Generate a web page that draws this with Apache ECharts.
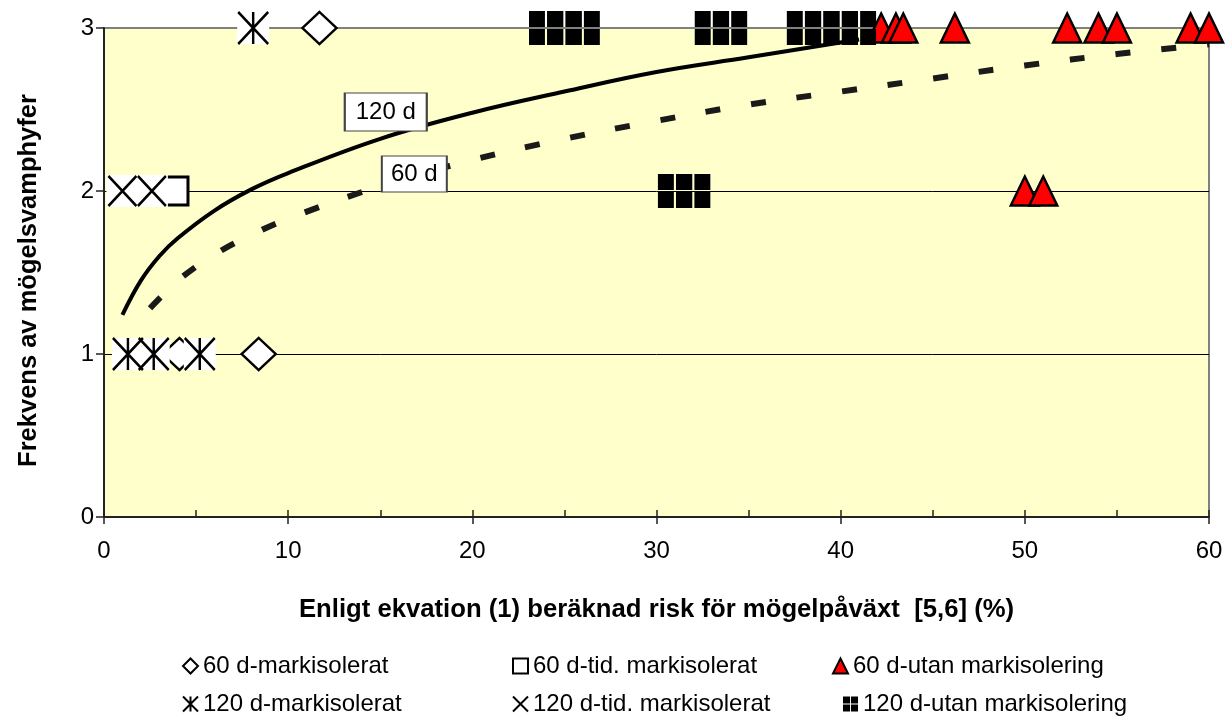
<!DOCTYPE html>
<html>
<head>
<meta charset="utf-8">
<script src="https://cdn.jsdelivr.net/npm/echarts@6/dist/echarts.min.js"></script>
<style>html,body{margin:0;padding:0;background:#fff;}#c{width:1232px;height:720px;}</style>
</head>
<body>
<div id="c"></div>
<script>
// ---- data ----
const xTicks = [0, 10, 20, 30, 40, 50, 60];
const yTicks = [0, 1, 2, 3];
const names = ['60 d-markisolerat', '60 d-tid. markisolerat', '60 d-utan markisolering',
               '120 d-markisolerat', '120 d-tid. markisolerat', '120 d-utan markisolering'];
const d60mark = [[11.7, 3], [8.4, 1], [4.1, 1]];
const d60tid = [[3.8, 2]];
const d60utan = [[42.2, 3], [43.0, 3], [43.4, 3], [46.2, 3], [52.3, 3], [54.0, 3], [55.0, 3], [59.0, 3], [60.0, 3], [50.0, 2], [51.0, 2]];
const d120mark = [[8.1, 3], [1.3, 1], [2.7, 1], [5.2, 1]];
const d120tid = [[1.0, 2], [2.6, 2]];
const d120utan = [[24, 3], [25, 3], [26, 3], [33, 3], [34, 3], [38, 3], [39, 3], [40, 3], [41, 3], [31, 2], [32, 2]];
const trend120 = [[1, 1.24], [2, 1.45], [3, 1.60], [4, 1.71], [6, 1.88], [8, 2.01], [10, 2.11], [15, 2.32], [20, 2.48], [25, 2.61], [30, 2.73], [35, 2.82], [41, 2.93]];
const trend60 = [[2.5, 1.28], [3, 1.34], [4, 1.45], [6, 1.61], [8, 1.73], [10, 1.83], [15, 2.03], [20, 2.19], [25, 2.32], [30, 2.43], [35, 2.53], [40, 2.61], [45, 2.69], [50, 2.77], [55, 2.84], [60, 2.90]];
const trendLabels = ['120 d', '60 d'];
const xTitle = 'Enligt ekvation (1) beräknad risk för mögelpåväxt  [5,6] (%)';
const yTitle = 'Frekvens av mögelsvamphyfer';

// ---- styling ----
const FONT = '"Liberation Sans", Arial, sans-serif';
const asteriskPath = 'path://M0 0L10 10M10 0L0 10M5 0L5 10';
const crossPath = 'path://M0 0L10 10M10 0L0 10';
const gridPath = 'path://M0 0H15V15H0ZM17 0H32V15H17ZM0 17H15V32H0ZM17 17H32V32H17Z';

const chart = echarts.init(document.getElementById('c'), null, {renderer: 'canvas'});

function legendAt(name, left, top) {
  return {
    data: [name], left: left, top: top, orient: 'horizontal',
    itemWidth: 15, itemHeight: 15, selectedMode: false,
    textStyle: {fontFamily: FONT, fontSize: 24, color: '#000'}
  };
}

const option = {
  animation: false,
  backgroundColor: '#fff',
  grid: {left: 104, right: 23, top: 28, bottom: 203, show: true,
         backgroundColor: '#FFFFCC', borderColor: '#808080', borderWidth: 2},
  legend: [
    legendAt(names[0], 177, 649),
    legendAt(names[1], 507, 649),
    legendAt(names[2], 827, 649),
    legendAt(names[3], 177, 687),
    legendAt(names[4], 507, 687),
    legendAt(names[5], 838, 687)
  ],
  xAxis: [{
    type: 'value', min: xTicks[0], max: xTicks[xTicks.length - 1], interval: 10,
    name: xTitle, nameLocation: 'middle', nameGap: 80,
    nameTextStyle: {fontFamily: FONT, fontSize: 25.7, fontWeight: 'bold', color: '#000'},
    axisLine: {show: true, lineStyle: {color: '#222', width: 2}},
    axisTick: {show: true, inside: false, length: 7, lineStyle: {color: '#222', width: 1.5}},
    axisLabel: {fontFamily: FONT, fontSize: 24, color: '#000', margin: 22},
    splitLine: {show: false}
  }, {
    type: 'value', min: xTicks[0], max: xTicks[xTicks.length - 1], interval: 10, position: 'bottom',
    axisLine: {show: false},
    axisTick: {show: true, inside: true, length: 7, lineStyle: {color: '#222', width: 1.5}},
    minorTick: {show: true, splitNumber: 2, length: 7, lineStyle: {color: '#222', width: 1.5}},
    axisLabel: {show: false}, splitLine: {show: false}
  }],
  yAxis: {
    type: 'value', min: yTicks[0], max: yTicks[yTicks.length - 1], interval: 1,
    name: yTitle, nameLocation: 'middle', nameGap: 62, nameRotate: 90,
    nameTextStyle: {fontFamily: FONT, fontSize: 25.5, fontWeight: 'bold', color: '#000', padding: [0, 16, 0, 0]},
    axisLine: {show: true, lineStyle: {color: '#222', width: 2}},
    axisTick: {show: true, inside: false, length: 8, lineStyle: {color: '#222', width: 1.5}},
    axisLabel: {fontFamily: FONT, fontSize: 24, color: '#000', margin: 10},
    splitLine: {show: true, lineStyle: {color: ['#000', '#000', '#000', '#808080'], width: 1}}
  },
  series: [
    {
      name: 'trend120', type: 'line', data: trend120, smooth: 0.4, showSymbol: false,
      lineStyle: {color: '#000', width: 4}, silent: true, z: 2,
      markPoint: {
        symbol: 'rect', symbolSize: [82, 38],
        itemStyle: {color: '#fff', borderColor: '#444', borderWidth: 1.5},
        label: {show: true, position: 'inside', formatter: trendLabels[0], fontFamily: FONT, fontSize: 24, color: '#000'},
        data: [{coord: [15.3, 2.485], value: 0}]
      }
    },
    {
      name: 'trend60', type: 'line', data: trend60, smooth: 0.4, showSymbol: false,
      lineStyle: {color: '#1a1a1a', width: 6, type: [15, 31]}, silent: true, z: 2,
      markPoint: {
        symbol: 'rect', symbolSize: [65, 36],
        itemStyle: {color: '#fff', borderColor: '#444', borderWidth: 1.5},
        label: {show: true, position: 'inside', formatter: trendLabels[1], fontFamily: FONT, fontSize: 24, color: '#000'},
        data: [{coord: [16.85, 2.104], value: 0}]
      }
    },
    {
      name: names[0], type: 'scatter', data: d60mark, symbol: 'diamond', symbolSize: [34, 32],
      itemStyle: {color: '#fff', borderColor: '#000', borderWidth: 2.5, opacity: 1}, z: 3
    },
    {
      name: names[1], type: 'scatter', data: d60tid, symbol: 'rect', symbolSize: [28, 28],
      itemStyle: {color: '#fff', borderColor: '#000', borderWidth: 3, opacity: 1}, z: 3
    },
    {
      name: names[2], type: 'scatter', data: d60utan, symbol: 'triangle', symbolSize: [28, 29],
      itemStyle: {color: '#FF0000', borderColor: '#000', borderWidth: 2.5, opacity: 1}, z: 3
    },
    {
      name: 'bg120mark', type: 'scatter', data: d120mark, symbol: 'rect', symbolSize: [32, 32],
      itemStyle: {color: '#fff', opacity: 1}, z: 3, silent: true
    },
    {
      name: names[3], type: 'scatter', data: d120mark, symbol: asteriskPath, symbolSize: [30, 32],
      itemStyle: {color: 'rgba(0,0,0,0)', borderColor: '#000', borderWidth: 2.5, opacity: 1}, z: 3
    },
    {
      name: 'bg120tid', type: 'scatter', data: d120tid, symbol: 'rect', symbolSize: [32, 32],
      itemStyle: {color: '#fff', opacity: 1}, z: 3, silent: true
    },
    {
      name: names[4], type: 'scatter', data: d120tid, symbol: crossPath, symbolSize: [28, 30],
      itemStyle: {color: 'rgba(0,0,0,0)', borderColor: '#000', borderWidth: 2.5, opacity: 1}, z: 3
    },
    {
      name: names[5], type: 'scatter', data: d120utan, symbol: gridPath, symbolSize: [34, 34],
      itemStyle: {color: '#000', opacity: 1}, z: 3
    }
  ]
};
chart.setOption(option);
</script>
</body>
</html>
